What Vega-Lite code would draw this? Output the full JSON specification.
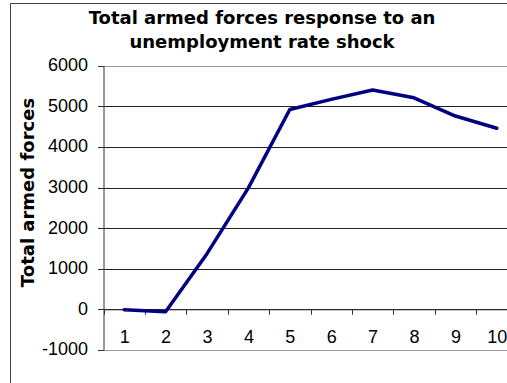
{
  "$schema": "https://vega.github.io/schema/vega-lite/v6.json",
  "autosize": {"type": "none"},
  "width": 504,
  "height": 390,
  "padding": {"left": 10, "top": 3, "right": -7, "bottom": -10},
  "background": "white",
  "title": {
    "text": ["Total armed forces response to an", "unemployment rate shock"],
    "font": "DejaVu Sans",
    "fontSize": 18,
    "fontWeight": "bold",
    "color": "#000000",
    "lineHeight": 24,
    "anchor": "middle",
    "frame": "group",
    "offset": -49
  },
  "data": {
    "values": [
      {"t": "1", "v": -10},
      {"t": "2", "v": -60},
      {"t": "3", "v": 1370},
      {"t": "4", "v": 2990},
      {"t": "5", "v": 4920},
      {"t": "6", "v": 5170},
      {"t": "7", "v": 5400},
      {"t": "8", "v": 5210},
      {"t": "9", "v": 4760},
      {"t": "10", "v": 4460}
    ]
  },
  "mark": {"type": "line", "color": "#000080", "strokeWidth": 3.5, "strokeJoin": "round", "strokeCap": "round"},
  "encoding": {
    "x": {
      "field": "t",
      "type": "ordinal",
      "sort": null,
      "bandPosition": 0.5,
      "scale": {"type": "band", "paddingInner": 0, "paddingOuter": 0, "range": [93.5, 507.5]},
      "axis": {
        "title": null,
        "orient": "bottom",
        "offset": -83.7,
        "tickBand": "extent",
        "tickSize": 5,
        "tickColor": "#333333",
        "domainColor": "#333333",
        "labelAngle": 0,
        "labelFont": "Liberation Sans",
        "labelFontSize": 18,
        "labelColor": "#000000",
        "labelPadding": 14,
        "grid": false
      }
    },
    "y": {
      "field": "v",
      "type": "quantitative",
      "scale": {"domain": [-1000, 6000], "nice": false, "zero": false, "range": [346.9, 62.7]},
      "axis": {
        "orient": "left",
        "offset": -93.5,
        "values": [-1000, 0, 1000, 2000, 3000, 4000, 5000, 6000],
        "labelExpr": "'' + datum.value",
        "tickSize": 6,
        "tickColor": "#333333",
        "domainColor": "#333333",
        "labelFont": "Liberation Sans",
        "labelFontSize": 18,
        "labelColor": "#000000",
        "labelPadding": 10,
        "grid": true,
        "gridColor": {"condition": {"test": "datum.value == 6000 || datum.value == -1000", "value": "#999999"}, "value": "#222222"},
        "gridWidth": 1,
        "title": "Total armed forces",
        "titleFont": "DejaVu Sans",
        "titleFontSize": 18,
        "titleFontWeight": "bold",
        "titleColor": "#000000",
        "titleAngle": -90,
        "titleAlign": "center",
        "titleBaseline": "middle",
        "titleX": -75.5,
        "titleY": 189
      }
    }
  },
  "config": {
    "view": {"stroke": "#404040", "strokeWidth": 1}
  }
}
